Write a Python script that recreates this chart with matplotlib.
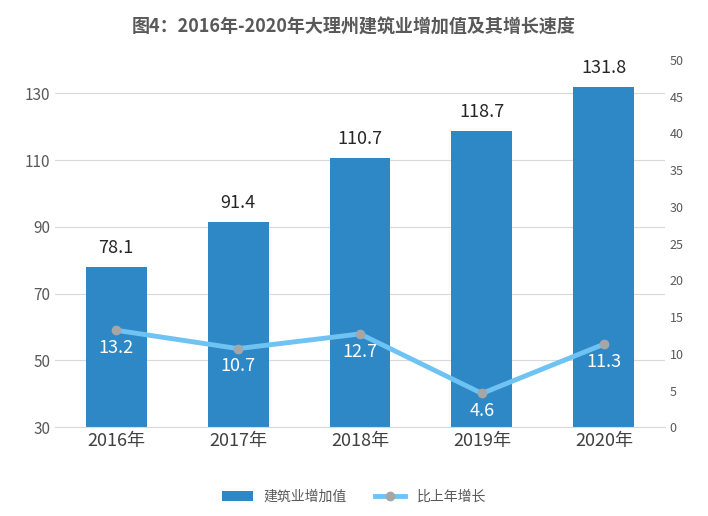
import matplotlib.pyplot as plt

plt.rcParams['font.family'] = ['Noto Sans CJK SC', 'DejaVu Sans']

years = ['2016年', '2017年', '2018年', '2019年', '2020年']
value_added = [78.1, 91.4, 110.7, 118.7, 131.8]
growth = [13.2, 10.7, 12.7, 4.6, 11.3]

fig = plt.figure(figsize=(7.08, 5.16), dpi=100)
ax = fig.add_axes([0.078, 0.172, 0.861, 0.712])
x = range(len(years))

ax.bar(x, value_added, width=0.5, color='#2E88C6', zorder=2, label='建筑业增加值')
ax.set_ylim(30, 140)
ax.set_yticks(range(30, 131, 20))
ax.set_xlim(-0.5, 4.5)
ax.set_xticks(list(x))
ax.set_xticklabels(years, fontsize=13, color='#404040')
ax.grid(axis='y', color='#D9D9D9', linewidth=0.8, zorder=0)
for s in ['top', 'right', 'left']:
    ax.spines[s].set_visible(False)
ax.spines['bottom'].set_color('#D9D9D9')
ax.tick_params(axis='both', length=0, labelsize=11, colors='#595959')
ax.tick_params(axis='x', labelsize=13, colors='#404040')
for i, v in enumerate(value_added):
    ax.text(i, v + 3, f'{v}', ha='center', va='bottom', fontsize=13, color='#262626')

ax2 = ax.twinx()
ax2.plot(list(x), growth, color='#6FC3F2', linewidth=3.5, marker='o', markersize=6,
         markerfacecolor='#A6A6A6', markeredgecolor='#A6A6A6', zorder=3, label='比上年增长')
ax2.set_ylim(0, 50)
ax2.set_yticks(range(0, 51, 5))
for s in ['top', 'right', 'left', 'bottom']:
    ax2.spines[s].set_visible(False)
ax2.tick_params(axis='y', length=0, labelsize=9, colors='#595959')
for i, v in enumerate(growth):
    ax2.text(i, v - 1.2, f'{v}', ha='center', va='top', fontsize=13, color='white')

fig.suptitle('图4：2016年-2020年大理州建筑业增加值及其增长速度', x=0.5, y=0.965,
             fontsize=13, fontweight='bold', color='#595959')
h1, l1 = ax.get_legend_handles_labels()
h2, l2 = ax2.get_legend_handles_labels()
fig.legend(h1 + h2, l1 + l2, loc='lower center', bbox_to_anchor=(0.5, 0.0), ncol=2,
           frameon=False, fontsize=10, labelcolor='#595959', handlelength=2.2)
fig.savefig('out.png', dpi=100)
